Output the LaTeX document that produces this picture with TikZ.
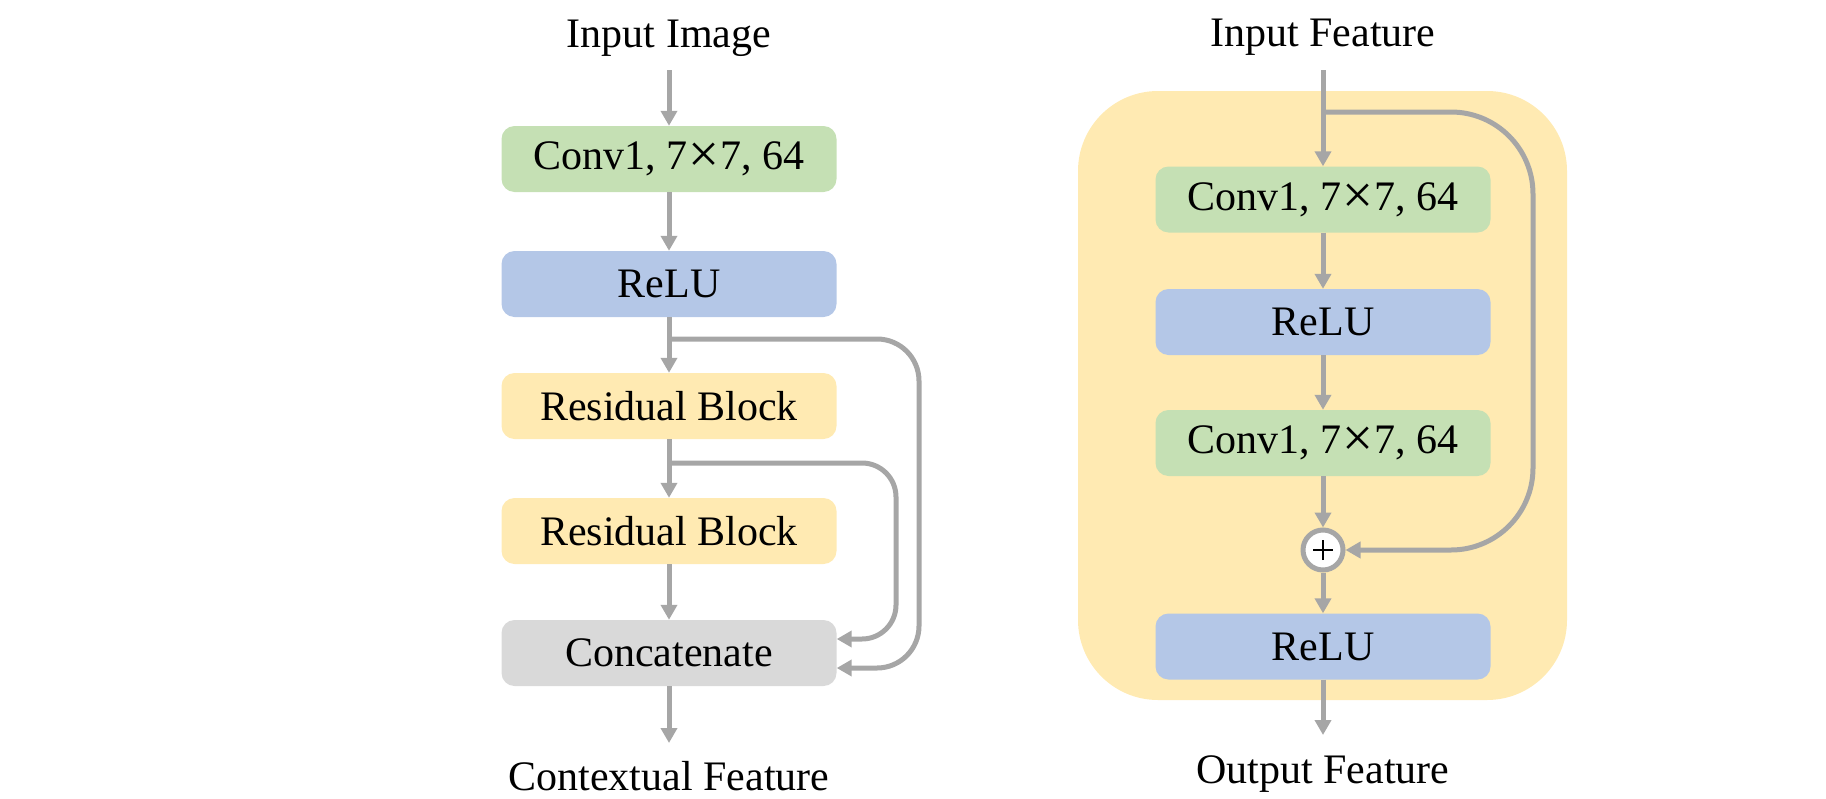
\documentclass[tikz,border=0pt]{standalone}
\usepackage{fontspec}
\setmainfont{Liberation Serif}
\usetikzlibrary{arrows.meta}
\definecolor{cgreen}{HTML}{C5E0B4}
\definecolor{cblue}{HTML}{B4C7E7}
\definecolor{cyellow}{HTML}{FFEAB2}
\definecolor{cgray}{HTML}{D9D9D9}
\definecolor{cline}{HTML}{A6A6A6}
\newcommand{\mytimes}{\hspace{1pt}\raisebox{-3pt}{\fontsize{55}{55}\selectfont ×}\hspace{1pt}}
\begin{document}
\begin{tikzpicture}[x=1pt,y=-1pt,
  box/.style={rounded corners=13pt, minimum height=66pt, minimum width=335pt, inner sep=0pt, font=\fontsize{42}{50}\selectfont},
  lbl/.style={anchor=base, inner sep=0pt, font=\fontsize{42}{50}\selectfont},
  arr/.style={draw=cline, line width=5pt, -{Triangle[width=16pt,length=15pt]}},
  plusnode/.style={circle, draw=cline, line width=5pt, fill=white, minimum size=40pt, inner sep=0pt,
    path picture={\draw[black, line width=1.6pt] ([xshift=-10pt]path picture bounding box.center) -- ([xshift=10pt]path picture bounding box.center);
                  \draw[black, line width=1.6pt] ([yshift=-10pt]path picture bounding box.center) -- ([yshift=10pt]path picture bounding box.center);}},
]
\useasboundingbox (0,0) rectangle (1826,798);

% ---------- left column ----------
\node[lbl] (inimg) at (669,47) {Input Image};
\node[box, fill=cgreen] (conv1) at (669,159) {Conv1, 7\mytimes 7, 64};
\node[box, fill=cblue] (relu1) at (669,284) {ReLU};
\node[box, fill=cyellow] (res1) at (669,406) {Residual Block};
\node[box, fill=cyellow] (res2) at (669,531) {Residual Block};
\node[box, fill=cgray] (concat) at (669,653) {Concatenate};
\node[lbl] (ctx) at (669,790) {Contextual Feature};
\coordinate (inimgtop) at (669,70);
\coordinate (ctxend) at (669,743);
\coordinate (b1) at (669,339);
\coordinate (b2) at (669,463);

\draw[arr] (inimgtop) -- (conv1.north);
\draw[arr] (conv1.south) -- (relu1.north);
\draw[arr] (relu1.south) -- (res1.north);
\draw[arr] (res1.south) -- (res2.north);
\draw[arr] (res2.south) -- (concat.north);
\draw[arr] (concat.south) -- (ctxend);
\draw[arr, rounded corners=42pt] (b1) -- (919,339) -- (919,668) -- (concat.east |- 0,668);
\draw[arr, rounded corners=34pt] (b2) -- (896,463) -- (896,639) -- (concat.east |- 0,639);

% ---------- right column ----------
\node[fill=cyellow, rounded corners=80pt, minimum width=489pt, minimum height=609pt, inner sep=0pt] (bg) at (1322.5,395.5) {};
\node[lbl] (infeat) at (1323,46) {Input Feature};
\node[box, fill=cgreen] (conv2a) at (1323,199.5) {Conv1, 7\mytimes 7, 64};
\node[box, fill=cblue] (relu2a) at (1323,322) {ReLU};
\node[box, fill=cgreen] (conv2b) at (1323,443) {Conv1, 7\mytimes 7, 64};
\node[plusnode] (plus) at (1323,550) {};
\node[box, fill=cblue] (relu2b) at (1323,646.5) {ReLU};
\node[lbl] (outfeat) at (1323,783) {Output Feature};
\coordinate (infeattop) at (1323,70);
\coordinate (outend) at (1323,735);
\coordinate (b3) at (1323,112);

\draw[arr] (infeattop) -- (conv2a.north);
\draw[arr] (conv2a.south) -- (relu2a.north);
\draw[arr] (relu2a.south) -- (conv2b.north);
\draw[arr] (conv2b.south) -- (plus.north);
\draw[arr] (plus.south) -- (relu2b.north);
\draw[arr] (relu2b.south) -- (outend);
\draw[arr, rounded corners=82pt] (b3) -- (1533,112) -- (1533,550) -- (plus.east);
\end{tikzpicture}
\end{document}
